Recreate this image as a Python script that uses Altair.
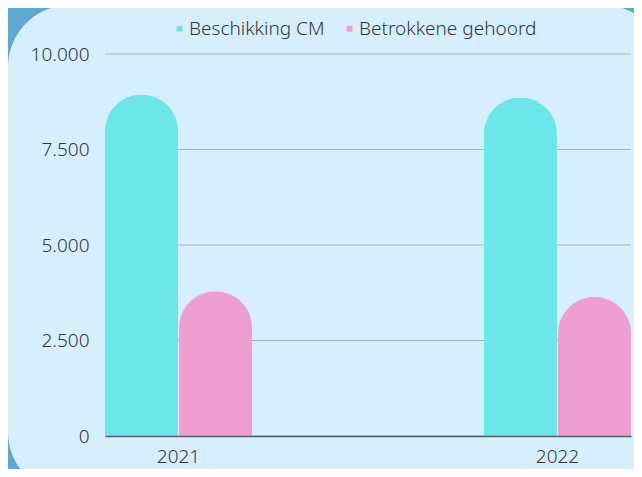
import altair as alt
import pandas as pd

years = ["2021", "2022"]
series = ["Beschikking CM", "Betrokkene gehoord"]
beschikking = [8940, 8860]
gehoord = [3790, 3640]
y_ticks = [0, 2500, 5000, 7500, 10000]
colors = ["#6ce6e9", "#ee9fd0"]

rows = []
for i, yr in enumerate(years):
    rows.append({"jaar": yr, "reeks": series[0], "waarde": beschikking[i]})
    rows.append({"jaar": yr, "reeks": series[1], "waarde": gehoord[i]})
df = pd.DataFrame(rows)
grid_df = pd.DataFrame({"waarde": y_ticks})

FONT = "Noto Sans"
TXT = "#2f363d"

y_scale = alt.Scale(domain=[0, 10000], nice=False)
y_axis = alt.Axis(
    title=None, values=y_ticks,
    labelExpr="replace(format(datum.value, ','), ',', '.')",
    ticks=False, domain=False, grid=False,
    labelPadding=16, labelFont=FONT, labelFontSize=19,
    labelColor=TXT, labelFontWeight=300, zindex=1,
)

bg = alt.Chart(alt.Data(values=[{}])).mark_rect(
    cornerRadius=62, color="#d7effc"
).encode(
    x=alt.value(-97), x2=alt.value(560), y=alt.value(-49), y2=alt.value(440)
)

grid = alt.Chart(grid_df).mark_rule(color="#a0b2bb", strokeWidth=1).encode(
    y=alt.Y("waarde:Q", scale=y_scale, axis=y_axis)
)

bars = alt.Chart(df).mark_bar(
    cornerRadiusTopLeft=37, cornerRadiusTopRight=37
).encode(
    x=alt.X(
        "jaar:N",
        sort=years,
        scale=alt.Scale(paddingInner=0.612, paddingOuter=0),
        axis=alt.Axis(
            title=None, labelAngle=0, ticks=False, domain=True,
            domainColor="#4f5b66", domainWidth=1.5, labelPadding=11,
            grid=False, labelFont=FONT, labelFontSize=19, labelColor=TXT,
            labelFontWeight=300, zindex=1,
        ),
    ),
    xOffset=alt.XOffset("reeks:N", sort=series, scale=alt.Scale(paddingInner=0.014)),
    y=alt.Y("waarde:Q", scale=y_scale, axis=y_axis),
    color=alt.Color(
        "reeks:N",
        sort=series,
        scale=alt.Scale(domain=series, range=colors),
        legend=alt.Legend(
            title=None, orient="none", legendX=65, legendY=-35,
            direction="horizontal", symbolType="square", symbolSize=36,
            symbolStrokeWidth=0, labelFontSize=19, labelFont=FONT,
            labelColor=TXT, labelFontWeight=300, labelOffset=0,
            columnPadding=15, labelLimit=300, padding=0,
        ),
    ),
)

chart = alt.layer(bg, grid, bars).properties(
    width=526, height=382,
    autosize=alt.AutoSizeParams(type="none"),
    padding={"left": 97, "top": 46, "right": 3, "bottom": 33},
    background="#5fa8d2",
).configure_view(stroke=None)

chart.save("out.html", embed_options={"renderer": "svg", "actions": False})
